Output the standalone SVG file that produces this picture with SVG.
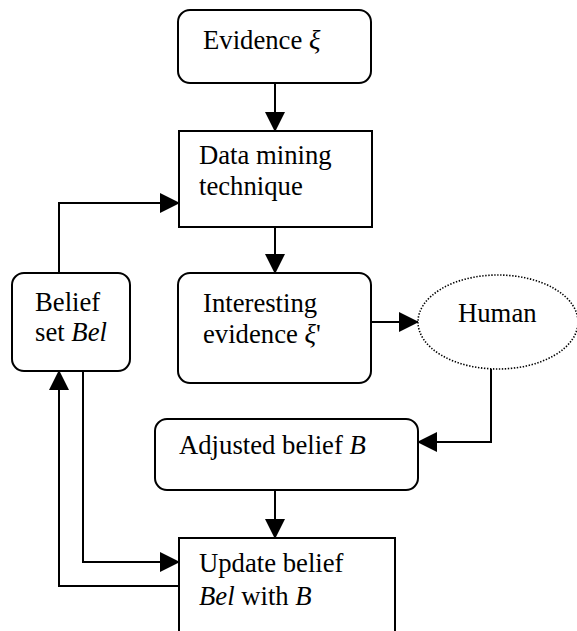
<svg xmlns="http://www.w3.org/2000/svg" width="577" height="631" viewBox="0 0 577 631">
<defs>
<marker id="ah" viewBox="0 0 20 20" refX="19" refY="10" markerWidth="20" markerHeight="20" markerUnits="userSpaceOnUse" orient="auto">
<path d="M0,0 L20,10 L0,20 z" fill="#000"/>
</marker>
</defs>
<style>
.box{fill:#fff;stroke:#000;stroke-width:2}
.dot{fill:#fff;stroke:#000;stroke-width:1.6;stroke-dasharray:1.4 1.6}
.t{font-family:"Liberation Serif","Times New Roman",serif;font-size:26.7px;fill:#000}
.i{font-style:italic}
.c{fill:none;stroke:#000;stroke-width:2;marker-end:url(#ah)}
.l{fill:none;stroke:#000;stroke-width:2}
</style>
<rect width="577" height="631" fill="#fff"/>
<g id="connectors">
<path class="c" d="M275,83 V131"/>
<path class="c" d="M59,273 V203 H179"/>
<path class="c" d="M275,227 V273"/>
<path class="c" d="M371,322 H418"/>
<path class="c" d="M491,369 V442 H418"/>
<path class="c" d="M275,490 V538"/>
<path class="c" d="M83,371 V562 H179"/>
<path class="c" d="M179,586 H59 V371"/>
</g>
<g id="evidence">
<rect class="box" x="178" y="10" width="193" height="73" rx="12"/>
<text class="t" x="203" y="49">Evidence <tspan class="i">ξ</tspan></text>
</g>
<g id="data-mining">
<rect class="box" x="179" y="131" width="193" height="96"/>
<text class="t" x="199" y="164">Data mining</text>
<text class="t" x="199" y="195">technique</text>
</g>
<g id="belief-set">
<rect class="box" x="12" y="273" width="118" height="98" rx="12"/>
<text class="t" x="35" y="311">Belief</text>
<text class="t" x="35" y="341">set <tspan class="i">Bel</tspan></text>
</g>
<g id="interesting">
<rect class="box" x="178" y="273" width="193" height="110" rx="12"/>
<text class="t" x="203" y="312">Interesting</text>
<text class="t" x="203" y="343">evidence  <tspan class="i">ξ</tspan>'</text>
</g>
<g id="human">
<ellipse class="dot" cx="498" cy="322" rx="80" ry="47"/>
<text class="t" x="458" y="322">Human</text>
</g>
<g id="adjusted">
<rect class="box" x="155" y="419" width="263" height="71" rx="12"/>
<text class="t" x="179" y="454">Adjusted belief <tspan class="i">B</tspan></text>
</g>
<g id="update">
<rect class="box" x="179" y="538" width="216" height="110"/>
<text class="t" x="199" y="572">Update belief</text>
<text class="t" x="199" y="605"><tspan class="i">Bel</tspan> with <tspan class="i">B</tspan></text>
</g>
</svg>
